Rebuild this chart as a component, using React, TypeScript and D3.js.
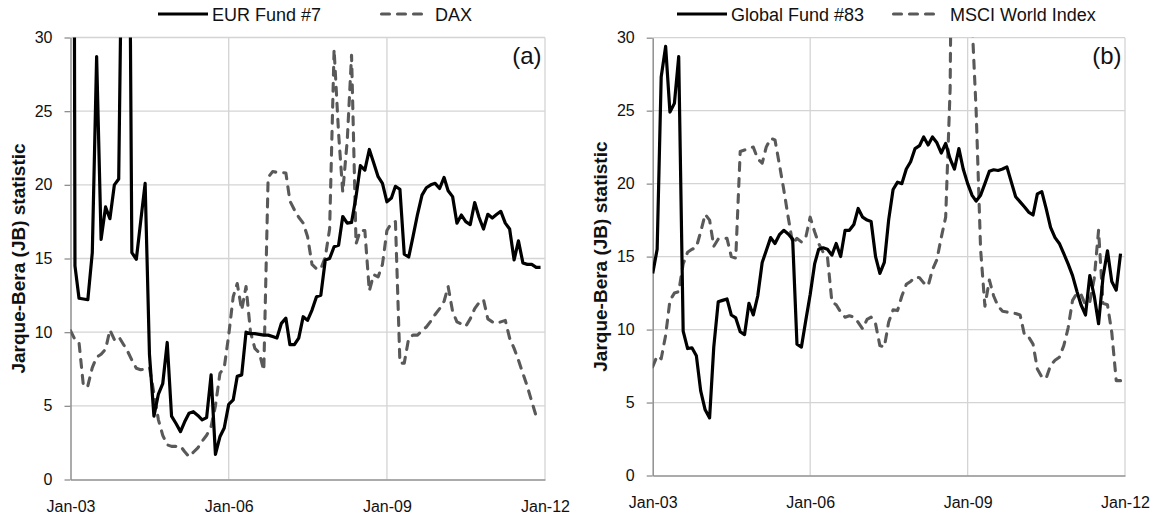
import * as d3 from "d3";
import { useEffect, useRef } from "react";

// monthly observations, Jan-03 onwards
const months = d3.range(108).map((i) => new Date(2003, i, 1));
const xTicks = [
    new Date(2003, 0, 1),
    new Date(2006, 0, 1),
    new Date(2009, 0, 1),
    new Date(2012, 0, 1),
];
const yTicks = [0, 5, 10, 15, 20, 25, 30];

const eurFund7 = [
    150, 14.5, 12.3, 12.25, 12.2, 15.4, 28.7, 16.3, 18.5, 17.7,
    20.0, 20.4, 45, 58, 15.4, 14.95, 17.5, 20.1, 8.5, 4.3,
    5.8, 6.5, 9.3, 4.3, 3.8, 3.25, 3.9, 4.5, 4.6, 4.35,
    4.05, 4.2, 7.1, 1.7, 2.9, 3.5, 5.1, 5.4, 7.0, 7.1,
    10.0, 9.9, 9.9, 9.85, 9.8, 9.8, 9.7, 9.6, 10.6, 10.95,
    9.15, 9.15, 9.6, 11.05, 10.8, 11.5, 12.4, 12.5, 14.9, 15.0,
    15.8, 15.9, 17.85, 17.4, 17.45, 19.2, 21.3, 21.0, 22.4, 21.5,
    20.55, 20.1, 18.85, 19.1, 19.9, 19.7, 15.3, 15.1, 16.5, 18.0,
    19.3, 19.8, 20.0, 20.1, 19.75, 20.5, 19.6, 19.2, 17.4, 17.95,
    17.5, 17.3, 18.8, 17.8, 17.0, 18.0, 17.75, 18.0, 18.2, 17.4,
    17.0, 14.9, 16.2, 14.7, 14.6, 14.6, 14.4, 14.4,
];

const dax = [
    10.1, 9.5, 9.3, 6.3, 6.35, 7.6, 8.3, 8.5, 8.85, 10.15,
    9.5, 9.7, 9.2, 8.7, 8.1, 7.55, 7.45, 7.5, 7.6, 5.85,
    4.05, 3.0, 2.35, 2.25, 2.25, 2.27, 1.9, 1.55, 1.85, 2.15,
    2.6, 3.0, 3.6, 5.0, 7.2, 7.6, 9.8, 12.4, 13.3, 11.5,
    13.1, 10.0, 8.9, 8.6, 7.4, 20.5, 20.9, 20.85, 20.85, 20.8,
    18.9, 18.3, 17.8, 17.4, 16.5, 14.6, 14.3, 14.3, 15.1, 17.0,
    29.2, 23.5, 19.5, 23.0, 28.8, 16.0, 16.9, 16.9, 12.8, 13.9,
    13.75, 14.6, 16.9, 17.4, 17.5, 7.9, 7.9, 9.6, 9.8, 9.8,
    10.1, 10.35, 10.75, 11.2, 11.6, 12.1, 13.1, 11.4, 10.7, 10.55,
    10.4, 10.9, 11.6, 12.0, 12.2, 10.9, 10.7, 10.6, 10.7, 10.8,
    9.6, 8.9, 8.1, 7.2, 6.3, 5.3, 4.3,
];

const globalFund83 = [
    13.85, 15.5, 27.3, 29.4, 24.9, 25.5, 28.7, 9.9, 8.7, 8.75,
    8.2, 5.8, 4.5, 3.95, 8.8, 11.9, 12.0, 12.1, 11.0, 10.8,
    9.85, 9.65, 11.8, 11.0, 12.3, 14.6, 15.4, 16.3, 15.9, 16.5,
    16.8, 16.55, 16.2, 9.0, 8.8, 10.6, 12.4, 14.5, 15.5, 15.6,
    15.5, 15.1, 15.9, 15.0, 16.8, 16.8, 17.2, 18.3, 17.7, 17.5,
    17.4, 15.0, 13.85, 14.6, 17.5, 19.6, 20.1, 20.0, 21.0, 21.5,
    22.4, 22.6, 23.2, 22.65, 23.2, 22.8, 22.1, 22.75, 21.7, 21.0,
    22.4, 21.0, 20.0, 19.2, 18.8, 19.2, 20.0, 20.85, 20.95, 20.9,
    21.0, 21.15, 20.1, 19.1, 18.75, 18.4, 18.05, 17.85, 19.3, 19.45,
    18.3, 17.0, 16.3, 15.9, 15.2, 14.5, 13.7, 12.6, 11.7, 11.0,
    13.7, 12.3, 10.4, 13.6, 15.4, 13.3, 12.7, 15.2,
];

const msciWorld = [
    7.45, 8.2, 8.0, 9.6, 12.0, 12.5, 12.6, 14.5, 15.3, 15.5,
    15.65, 16.7, 17.9, 17.5, 15.7, 16.2, 16.25, 16.25, 15.0, 14.9,
    22.2, 22.3, 22.45, 22.5, 21.7, 21.4, 22.5, 23.1, 23.0, 21.3,
    19.6, 17.7, 15.9, 16.25, 16.0, 16.3, 17.7, 16.7, 15.9, 15.3,
    15.0, 11.9, 11.7, 11.2, 10.85, 10.95, 10.85, 10.5, 10.05, 10.7,
    10.85, 10.4, 8.9, 8.8, 10.5, 11.35, 11.3, 12.3, 13.1, 13.3,
    13.6, 13.55, 13.2, 13.0, 14.1, 14.8, 16.3, 17.7, 26.5, 60,
    70, 75, 60, 31, 25, 15.5, 11.6, 13.4, 12.3, 11.6,
    11.25, 11.2, 11.15, 11.1, 11.0, 9.6, 9.5, 9.0, 7.3, 6.75,
    6.65, 7.55, 7.9, 8.1, 8.9, 10.1, 12.0, 12.5, 12.4, 11.7,
    11.9, 13.5, 16.8, 11.8, 11.7, 9.8, 6.5, 6.5,
];

const yTitle = "Jarque-Bera (JB) statistic";
const font = "'Liberation Sans', Arial, sans-serif";
const dashColor = "#595959";

type Panel = {
    id: string;
    tag: string;
    left: number;
    right: number;
    top: number;
    bottom: number;
    fund: number[];
    index: number[];
    fundLabel: string;
    indexLabel: string;
    legendX: [number, number]; // start of solid sample, start of dashed sample
};

const panels: Panel[] = [
    {
        id: "a",
        tag: "(a)",
        left: 70.5,
        right: 545,
        top: 37.5,
        bottom: 479.5,
        fund: eurFund7,
        index: dax,
        fundLabel: "EUR Fund #7",
        indexLabel: "DAX",
        legendX: [158, 380],
    },
    {
        id: "b",
        tag: "(b)",
        left: 652.7,
        right: 1125,
        top: 37.7,
        bottom: 475.5,
        fund: globalFund83,
        index: msciWorld,
        fundLabel: "Global Fund #83",
        indexLabel: "MSCI World Index",
        legendX: [677, 892],
    },
];

function drawPanel(svg: d3.Selection<SVGSVGElement, unknown, null, undefined>, p: Panel) {
    const x = d3.scaleTime().domain([xTicks[0], xTicks[3]]).range([p.left, p.right]);
    const y = d3.scaleLinear().domain([0, 30]).range([p.bottom, p.top]);
    const g = svg.append("g");

    // gridlines
    g.append("g")
        .selectAll("line")
        .data(yTicks.slice(1))
        .join("line")
        .attr("x1", p.left)
        .attr("x2", p.right)
        .attr("y1", (d) => y(d))
        .attr("y2", (d) => y(d))
        .attr("stroke", "#d4d4d4")
        .attr("stroke-width", 1.3);
    g.append("g")
        .selectAll("line")
        .data(xTicks.slice(1))
        .join("line")
        .attr("x1", (d) => x(d))
        .attr("x2", (d) => x(d))
        .attr("y1", p.top)
        .attr("y2", p.bottom)
        .attr("stroke", "#d4d4d4")
        .attr("stroke-width", 1.3);

    // axes
    const yAxis = g
        .append("g")
        .attr("transform", `translate(${p.left},0)`)
        .call(d3.axisLeft(y).tickValues(yTicks).tickSize(6).tickSizeOuter(0).tickPadding(12));
    const xAxis = g
        .append("g")
        .attr("transform", `translate(0,${p.bottom})`)
        .call(
            d3
                .axisBottom(x)
                .tickValues(xTicks)
                .tickSize(0)
                .tickPadding(21)
                .tickFormat((d) => d3.timeFormat("%b-%y")(d as Date)),
        );
    for (const ax of [yAxis, xAxis]) {
        ax.select(".domain").attr("stroke", "#8f8f8f").attr("stroke-width", 1.5);
        ax.selectAll(".tick line").attr("stroke", "#8f8f8f").attr("stroke-width", 1.3);
        ax.selectAll(".tick text")
            .attr("fill", "#111")
            .style("font-family", font)
            .style("font-size", "16px");
    }

    // series, clipped to the plot area
    g.append("clipPath")
        .attr("id", `clip-${p.id}`)
        .append("rect")
        .attr("x", p.left)
        .attr("y", p.top)
        .attr("width", p.right - p.left + 2)
        .attr("height", p.bottom - p.top);

    const line = d3
        .line<number>()
        .x((_, i) => x(months[i]))
        .y((d) => y(d));

    const series = g.append("g").attr("clip-path", `url(#clip-${p.id})`);
    series
        .append("path")
        .datum(p.index)
        .attr("fill", "none")
        .attr("stroke", dashColor)
        .attr("stroke-width", 3.1)
        .attr("stroke-dasharray", "8,8")
        .attr("stroke-linecap", "round")
        .attr("stroke-linejoin", "round")
        .attr("d", line);
    series
        .append("path")
        .datum(p.fund)
        .attr("fill", "none")
        .attr("stroke", "#000")
        .attr("stroke-width", 3.2)
        .attr("stroke-linejoin", "round")
        .attr("d", line);

    // y title
    g.append("text")
        .attr("transform", `translate(${p.left - 45.5},${(p.top + p.bottom) / 2}) rotate(-90)`)
        .attr("text-anchor", "middle")
        .style("font-family", font)
        .style("font-size", "19px")
        .style("font-weight", "bold")
        .attr("fill", "#111")
        .text(yTitle);

    // panel tag
    g.append("text")
        .attr("x", p.right - 3.5)
        .attr("y", 64)
        .attr("text-anchor", "end")
        .style("font-family", font)
        .style("font-size", "24px")
        .attr("fill", "#111")
        .text(p.tag);

    // legend
    const [sx, dx] = p.legendX;
    g.append("line")
        .attr("x1", sx)
        .attr("x2", sx + 50)
        .attr("y1", 14)
        .attr("y2", 14)
        .attr("stroke", "#000")
        .attr("stroke-width", 3.2);
    g.append("text")
        .attr("x", sx + 54)
        .attr("y", 20.5)
        .style("font-family", font)
        .style("font-size", "18px")
        .attr("fill", "#111")
        .text(p.fundLabel);
    g.append("line")
        .attr("x1", dx + 1.5)
        .attr("x2", dx + 46)
        .attr("y1", 14)
        .attr("y2", 14)
        .attr("stroke", dashColor)
        .attr("stroke-width", 3.1)
        .attr("stroke-dasharray", "8,8")
        .attr("stroke-linecap", "round");
    g.append("text")
        .attr("x", dx + (p.id === "a" ? 55 : 58))
        .attr("y", 20.5)
        .style("font-family", font)
        .style("font-size", "18px")
        .attr("fill", "#111")
        .text(p.indexLabel);
}

export default function App() {
    const ref = useRef<SVGSVGElement | null>(null);

    useEffect(() => {
        if (!ref.current) return;
        const svg = d3.select(ref.current);
        svg.selectAll("*").remove();
        svg.append("rect").attr("width", 1156).attr("height", 519).attr("fill", "#fff");
        for (const p of panels) drawPanel(svg, p);
    }, []);

    return (
        <svg
            ref={ref}
            width={1156}
            height={519}
            style={{ position: "absolute", left: 0, top: 0, display: "block" }}
        ></svg>
    );
}
